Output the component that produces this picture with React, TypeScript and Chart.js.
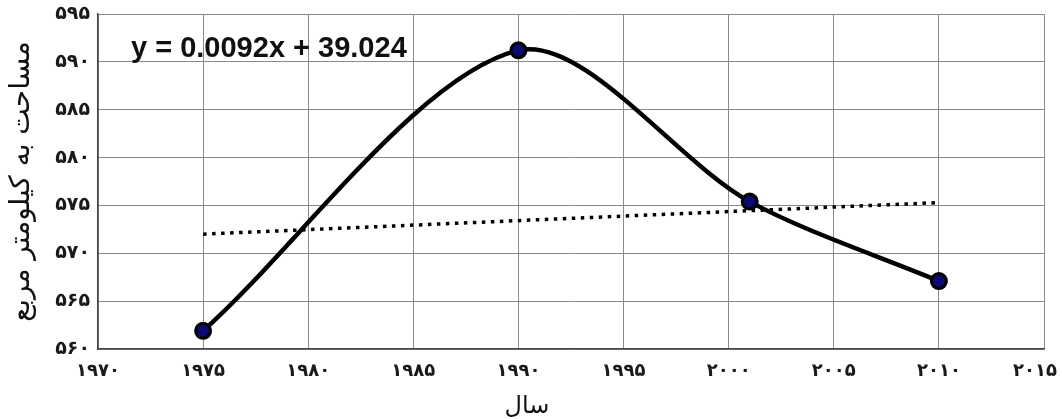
import React, { useEffect, useRef } from "react";
import { Chart, registerables } from "chart.js";

Chart.register(...registerables);

const years = [1975, 1990, 2001, 2010];
const areaValues = [561.9, 591.2, 575.4, 567.1];
const trendYears = [1975, 2010];
const trendValues = [572.0, 575.3];
const equationText = "y = 0.0092x + 39.024";
const yTitle = "مساحت به کیلومتر مربع";
const xTitle = "سال";
const xMin = 1970;
const xMax = 2015;

const faDigits = "۰۱۲۳۴۵۶۷۸۹";
const toFa = (v: number | string) => String(v).replace(/\d/g, (d) => faDigits[Number(d)]);

const equationPlugin = {
  id: "equationLabel",
  afterDatasetsDraw(chart: any) {
    const ctx = chart.ctx;
    ctx.save();
    ctx.font = 'bold 29px "Liberation Sans"';
    ctx.fillStyle = "#111";
    ctx.textBaseline = "alphabetic";
    ctx.textAlign = "left";
    ctx.fillText(equationText, 131, 57);
    ctx.restore();
  },
};

export default function App() {
  const ref = useRef<HTMLCanvasElement>(null);
  useEffect(() => {
    if (!ref.current) return;
    const chart = new Chart(ref.current, {
      type: "scatter",
      data: {
        datasets: [
          {
            label: "area",
            data: years.map((x, i) => ({ x, y: areaValues[i] })),
            showLine: true,
            borderColor: "#000",
            borderWidth: 4.5,
            tension: 0.3,
            pointRadius: 7.5,
            pointBorderWidth: 3,
            pointBorderColor: "#000",
            pointBackgroundColor: "#0a0a70",
            order: 1,
          },
          {
            label: "trend",
            data: trendYears.map((x, i) => ({ x, y: trendValues[i] })),
            showLine: true,
            borderColor: "#000",
            borderWidth: 3.5,
            borderDash: [3.5, 5.5],
            pointRadius: 0,
            tension: 0,
            order: 2,
          },
        ],
      },
      options: {
        animation: false,
        responsive: false,
        layout: { padding: { left: 0, top: 14, right: 8, bottom: 0 } },
        plugins: {
          legend: { display: false },
          tooltip: { enabled: false },
          title: {
            display: true,
            position: "bottom",
            text: xTitle,
            color: "#111",
            font: { family: '"DejaVu Sans"', size: 24, weight: "normal", lineHeight: 1 },
            padding: { top: 0, bottom: 0 },
          },
        },
        scales: {
          x: {
            type: "linear",
            min: xMin,
            max: xMax,
            ticks: {
              stepSize: 5,
              padding: 12,
              color: "#1a1a1a",
              font: { family: '"DejaVu Sans"', size: 18, weight: "bold" },
              callback: (v: any) => (v === xMax ? toFa(v) + "\u2003" : toFa(v)),
              maxRotation: 0,
            },
            grid: { color: "#8a8a8a", lineWidth: 1, drawTicks: false },
            border: { color: "#444", width: 1.5 },
            afterFit: (s: any) => {
              s.height = 46;
              s.paddingRight = 18;
            },
          },
          y: {
            min: 560,
            max: 595,
            ticks: {
              stepSize: 5,
              padding: 8,
              color: "#1a1a1a",
              font: { family: '"DejaVu Sans"', size: 19, weight: "bold" },
              callback: (v: any) => toFa(v),
            },
            grid: { color: "#8a8a8a", lineWidth: 1, drawTicks: false },
            border: { color: "#444", width: 1.5 },
            title: {
              display: true,
              text: yTitle,
              color: "#111",
              font: { family: '"DejaVu Sans"', size: 28, weight: "normal" },
              padding: { top: 5, bottom: 0 },
            },
            afterFit: (s: any) => {
              s.width = 98;
              s.paddingTop = 0;
            },
          },
        },
      },
      plugins: [equationPlugin],
    });
    return () => chart.destroy();
  }, []);
  return (
    <div style={{ position: "absolute", left: 0, top: 0, width: 1062, height: 419, background: "#fff" }}>
      <canvas ref={ref} width={1062} height={419} />
    </div>
  );
}
